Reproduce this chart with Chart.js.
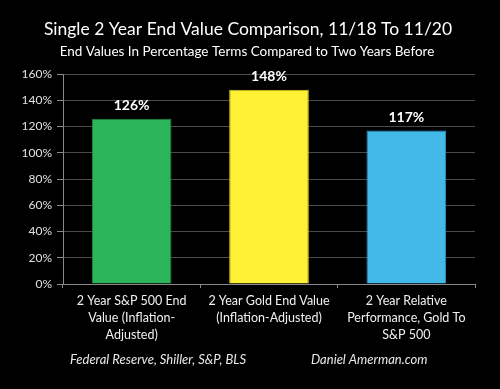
<!DOCTYPE html>
<html>
<head>
<meta charset="utf-8">
<script src="https://cdn.jsdelivr.net/npm/chart.js@4"></script>
<style>
  html, body { margin: 0; padding: 0; background: #000; }
  #wrap { width: 500px; height: 389px; }
</style>
</head>
<body>
<div id="wrap"><canvas id="myChart" width="500" height="389"></canvas></div>
<script>
const labels = [
    ['2 Year S&P 500 End', 'Value (Inflation-', 'Adjusted)'],
    ['2 Year Gold End Value', '(Inflation-Adjusted)'],
    ['2 Year Relative', 'Performance, Gold To', 'S&P 500'],
];
const values = [126, 148, 117];
const barColors = ['#2cb55a', '#fff135', '#43b9ea'];
const edgeColors = ['#1e8a40', '#d8c81a', '#2e95c4'];

const FONT = 'Lato, "Open Sans", sans-serif';

// titles, value labels and the source line
const textPlugin = {
    id: 'texts',
    afterDatasetsDraw(chart) {
        const ctx = chart.ctx;
        ctx.save();
        ctx.fillStyle = '#ffffff';
        ctx.textAlign = 'center';
        ctx.textBaseline = 'middle';

        ctx.font = '17.5px ' + FONT;
        ctx.fillText('Single 2 Year End Value Comparison, 11/18 To 11/20', 248, 29);
        ctx.font = '13.5px ' + FONT;
        ctx.fillText('End Values In Percentage Terms Compared to Two Years Before', 247, 52);

        const meta = chart.getDatasetMeta(0);
        ctx.font = 'bold 14px ' + FONT;
        meta.data.forEach((bar, i) => {
            ctx.fillText(values[i] + '%', bar.x, bar.y - 13);
        });

        ctx.font = 'italic 13px ' + FONT;
        ctx.textAlign = 'left';
        ctx.fillStyle = '#e8e8e8';
        ctx.fillText('Federal Reserve, Shiller, S&P, BLS', 70, 360);
        ctx.fillText('Daniel Amerman.com', 311, 360);
        ctx.restore();
    }
};

const config = {
    type: 'bar',
    data: {
        labels: labels,
        datasets: [{
            data: values,
            backgroundColor: barColors,
            borderColor: edgeColors,
            borderWidth: 1,
            barPercentage: 0.58,
            categoryPercentage: 1.0,
        }]
    },
    options: {
        responsive: false,
        animation: false,
        layout: { padding: { top: 74, right: 25, left: 0, bottom: 0 } },
        plugins: {
            legend: { display: false },
            title: { display: false },
            tooltip: { enabled: false },
        },
        scales: {
            x: {
                grid: {
                    display: true,
                    drawOnChartArea: false,
                    drawTicks: true,
                    tickLength: 4,
                    color: '#888',
                    offset: true,
                },
                border: { color: '#888' },
                ticks: {
                    color: '#f0f0f0',
                    font: { family: FONT, size: 12.5, lineHeight: 1.33 },
                    maxRotation: 0,
                    padding: 5,
                },
                afterFit(scale) { scale.height = 105; },
            },
            y: {
                min: 0,
                max: 160,
                ticks: {
                    stepSize: 20,
                    color: '#e0e0e0',
                    font: { family: FONT, size: 12 },
                    padding: 5,
                    callback: v => v + '%',
                },
                grid: {
                    color: '#4a4a4a',
                    tickLength: 6,
                    tickColor: '#888',
                },
                border: { color: '#888' },
                afterFit(scale) { scale.width = 63; },
            }
        }
    },
    plugins: [textPlugin],
};

const myChart = new Chart(document.getElementById('myChart'), config);
</script>
</body>
</html>
